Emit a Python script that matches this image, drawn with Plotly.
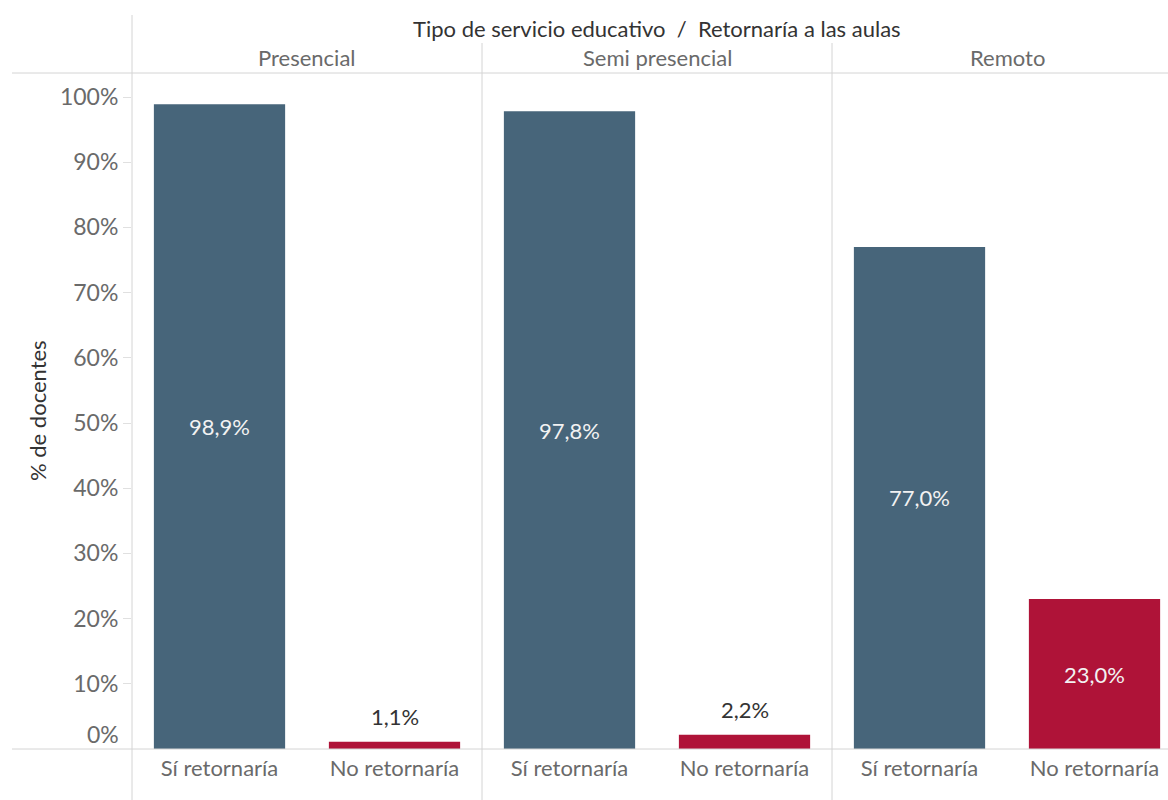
import plotly.graph_objects as go

# Data
panes = ["Presencial", "Semi presencial", "Remoto"]
categories = ["Sí retornaría", "No retornaría"]
si_values = [98.9, 97.8, 77.0]
no_values = [1.1, 2.2, 23.0]
y_ticks = [0, 10, 20, 30, 40, 50, 60, 70, 80, 90, 100]
y_tick_labels = ["0%", "10%", "20%", "30%", "40%", "50%", "60%", "70%", "80%", "90%", "100%"]

BLUE = "#47657A"
RED = "#AF1338"
GRID = "#D4D4D4"
FONT = "Lato"
LABEL_GRAY = "#6A6A6A"

W, H = 1168, 800
ML, MR, MT, MB = 132, 0, 73, 51
pane_px = 350
plot_w = W - ML - MR
plot_h = H - MT - MB


def px_x(p):
    return (p - ML) / plot_w


def px_y(p):
    return (H - MB - p) / plot_h


def fmt(v):
    return f"{v:.1f}".replace(".", ",") + "%"


fig = go.Figure()

domains = []
for i in range(3):
    x0 = i * pane_px / plot_w
    x1 = min((i + 1) * pane_px / plot_w, 1.0)
    domains.append([x0, x1])

for i, pane in enumerate(panes):
    vals = [si_values[i], no_values[i]]
    inside = [v > 8 for v in vals]
    xa = "x" if i == 0 else f"x{i + 1}"
    fig.add_trace(go.Bar(
        x=categories,
        y=vals,
        xaxis=xa,
        yaxis="y",
        marker=dict(color=[BLUE, RED], line=dict(width=0)),
        text=[fmt(v) if ins else "" for v, ins in zip(vals, inside)],
        textposition="inside",
        insidetextanchor="middle",
        textfont=dict(family=FONT, size=22, color="#F2F2F2"),
        cliponaxis=False,
        showlegend=False,
        hoverinfo="skip",
    ))
    # short bars carry their label above the bar
    for cat, v, ins in zip(categories, vals, inside):
        if not ins:
            fig.add_annotation(
                xref=xa, yref="y", x=cat, y=v, text=fmt(v),
                showarrow=False, xanchor="center", yanchor="bottom", yshift=10,
                font=dict(family=FONT, size=22, color="#333333"),
            )

axis_common = dict(
    type="category",
    showgrid=False,
    zeroline=False,
    showline=False,
    ticks="",
    ticklabelstandoff=4,
    tickfont=dict(family=FONT, size=22, color=LABEL_GRAY),
    anchor="y",
    fixedrange=True,
)
# last pane is cut off at the right edge of the canvas
last_frac = (plot_w - 2 * pane_px) / pane_px
layout_axes = {}
for i in range(3):
    key = "xaxis" if i == 0 else f"xaxis{i + 1}"
    rng = [-0.5, 1.5] if i < 2 else [-0.5, -0.5 + 2 * last_frac]
    layout_axes[key] = dict(axis_common, domain=domains[i], range=rng)

fig.update_layout(
    width=W,
    height=H,
    margin=dict(l=ML, r=MR, t=MT, b=MB),
    paper_bgcolor="white",
    plot_bgcolor="white",
    bargap=0.25,
    font=dict(family=FONT, color=LABEL_GRAY),
    yaxis=dict(
        range=[0, (H - MB - MT) / 6.52],
        tickvals=y_ticks[1:],
        ticktext=y_tick_labels[1:],
        tickfont=dict(family=FONT, size=23, color=LABEL_GRAY),
        ticks="outside",
        ticklen=8,
        tickcolor="#E0E0E0",
        showgrid=False,
        zeroline=False,
        showline=False,
        fixedrange=True,
    ),
    **layout_axes,
)

# zero label sits just above the baseline
fig.add_annotation(
    xref="paper", yref="y", x=0, y=0, text=y_tick_labels[0],
    xanchor="right", yanchor="middle", xshift=-11, yshift=15,
    showarrow=False, font=dict(family=FONT, size=23, color=LABEL_GRAY),
)

# axis title
fig.add_annotation(
    xref="paper", yref="paper", x=px_x(37), y=px_y(411), text="% de docentes",
    textangle=-90, showarrow=False, xanchor="center", yanchor="middle",
    font=dict(family=FONT, size=22, color="#333333"),
)

# header texts
full_w = 3 * pane_px
fig.add_annotation(
    xref="paper", yref="paper", x=px_x(ML + full_w / 2), y=px_y(28),
    text="Tipo de servicio educativo  /  Retornaría a las aulas",
    showarrow=False, xanchor="center", yanchor="middle",
    font=dict(family=FONT, size=22, color="#333333"),
)
for i, pane in enumerate(panes):
    fig.add_annotation(
        xref="paper", yref="paper", x=px_x(ML + pane_px * (i + 0.5)), y=px_y(58),
        text=pane, showarrow=False, xanchor="center", yanchor="middle",
        font=dict(family=FONT, size=22, color=LABEL_GRAY),
    )

# frame lines
shapes = [
    dict(type="line", xref="paper", yref="paper", x0=px_x(12), x1=1, y0=1, y1=1,
         line=dict(color=GRID, width=1)),
    dict(type="line", xref="paper", yref="paper", x0=px_x(12), x1=1, y0=0, y1=0,
         line=dict(color=GRID, width=1)),
    dict(type="line", xref="paper", yref="paper", x0=0, x1=0, y0=px_y(H), y1=px_y(15),
         line=dict(color=GRID, width=1)),
]
for i in (1, 2):
    xp = px_x(ML + pane_px * i)
    shapes.append(dict(type="line", xref="paper", yref="paper", x0=xp, x1=xp,
                       y0=px_y(H), y1=px_y(43), line=dict(color=GRID, width=1)))
fig.update_layout(shapes=shapes)

fig.write_html("out.html")
